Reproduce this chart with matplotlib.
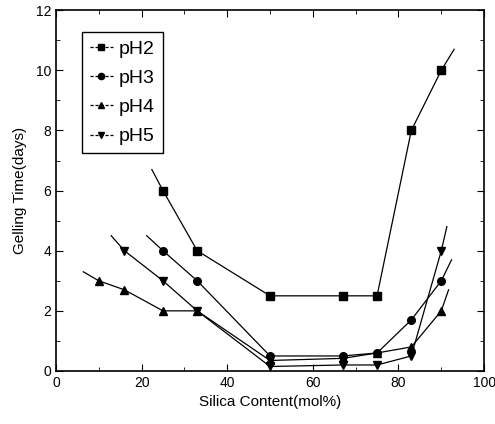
import numpy as np
import matplotlib
matplotlib.use('Agg')
import matplotlib.pyplot as plt
from matplotlib.lines import Line2D
from matplotlib.ticker import MultipleLocator

plt.rcParams['font.family'] = ['Liberation Sans', 'DejaVu Sans']

# ── DATA (first and last entries are the line tails, drawn without markers) ──
x_ph2 = [22.4, 25, 33, 50, 67, 75, 83, 90, 93.0]
y_ph2 = [6.7, 6.0, 4.0, 2.5, 2.5, 2.5, 8.0, 10.0, 10.7]

x_ph3 = [21.2, 25, 33, 50, 67, 75, 83, 90, 92.4]
y_ph3 = [4.5, 4.0, 3.0, 0.5, 0.5, 0.6, 1.7, 3.0, 3.7]

x_ph4 = [6.4, 10, 16, 25, 33, 50, 67, 75, 83, 90, 91.7]
y_ph4 = [3.3, 3.0, 2.7, 2.0, 2.0, 0.35, 0.42, 0.6, 0.8, 2.0, 2.7]

x_ph5 = [12.9, 16, 25, 33, 50, 67, 75, 83, 90, 91.3]
y_ph5 = [4.5, 4.0, 3.0, 2.0, 0.15, 0.2, 0.2, 0.5, 4.0, 4.8]

series = [('pH2', x_ph2, y_ph2, 's'),
          ('pH3', x_ph3, y_ph3, 'o'),
          ('pH4', x_ph4, y_ph4, '^'),
          ('pH5', x_ph5, y_ph5, 'v')]

# ── PLOT ─────────────────────────────────────────────
fig = plt.figure(figsize=(4.95, 4.24), dpi=100)
ax = fig.add_axes([0.113, 0.125, 0.865, 0.851])

handles = []
for label, xs, ys, mk in series:
    ax.plot(xs, ys, color='black', lw=0.9, marker=mk, ms=5.5,
            markevery=slice(1, len(xs) - 1))
    handles.append(Line2D([], [], color='black', lw=0.9, ls=(0, (2.5, 1.5)),
                          marker=mk, ms=4.5, label=label))

ax.set_xlim(0, 100)
ax.set_ylim(0, 12)
ax.xaxis.set_major_locator(MultipleLocator(20))
ax.xaxis.set_minor_locator(MultipleLocator(10))
ax.yaxis.set_major_locator(MultipleLocator(2))
ax.yaxis.set_minor_locator(MultipleLocator(1))
ax.tick_params(which='both', direction='in', top=True, right=True, labelsize=10)
ax.tick_params(which='major', length=5)
ax.tick_params(which='minor', length=3)
for sp in ax.spines.values():
    sp.set_linewidth(1.2)

ax.set_xlabel('Silica Content(mol%)', fontsize=11, labelpad=4)
ax.set_ylabel('Gelling Time(days)', fontsize=11, labelpad=6)

leg = ax.legend(handles=handles, loc='upper left', bbox_to_anchor=(0.061, 0.939),
                borderaxespad=0, fontsize=14, handlelength=1.2, handletextpad=0.3,
                labelspacing=0.6, borderpad=0.4, fancybox=False,
                edgecolor='black', framealpha=1)
leg.get_frame().set_linewidth(1.0)

plt.savefig('out.png', dpi=100, facecolor='white')
